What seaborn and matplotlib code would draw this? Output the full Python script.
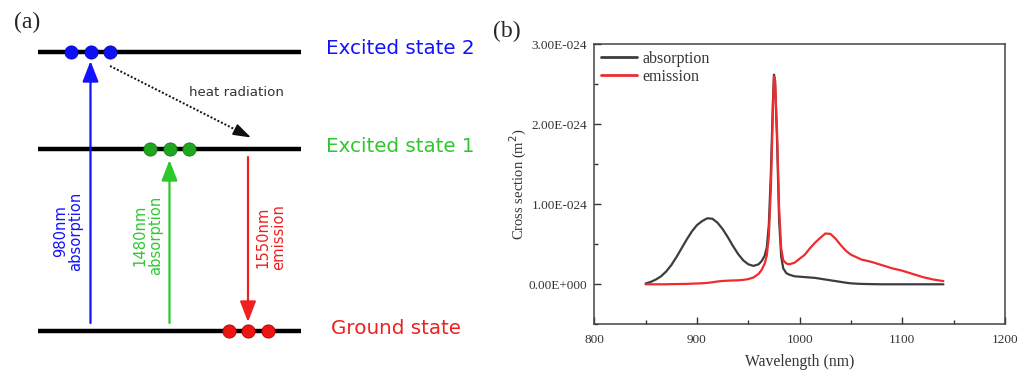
import numpy as np
import pandas as pd
import matplotlib
matplotlib.use("Agg")
import matplotlib.pyplot as plt
from matplotlib.ticker import FuncFormatter, MultipleLocator
import seaborn as sns

# ---- spectra (cross section in units of 1e-24 m^2) ----
wavelength = [850, 855, 860, 865, 870, 875, 880, 885, 890, 895, 900, 905, 910, 915,
              920, 925, 930, 935, 940, 945, 950, 955, 960, 963, 966, 968, 970, 972,
              974, 975, 976, 978, 980, 982, 984, 987, 990, 995, 1000, 1005, 1010,
              1015, 1020, 1025, 1030, 1035, 1040, 1045, 1050, 1055, 1060, 1070, 1080,
              1090, 1100, 1110, 1120, 1130, 1140]
absorption = [0.01, 0.03, 0.06, 0.10, 0.16, 0.24, 0.34, 0.45, 0.56, 0.66, 0.74, 0.79,
              0.825, 0.82, 0.77, 0.69, 0.59, 0.48, 0.38, 0.30, 0.25, 0.23, 0.25, 0.29,
              0.36, 0.46, 0.75, 1.40, 2.30, 2.62, 2.55, 1.80, 0.80, 0.35, 0.20, 0.14,
              0.12, 0.10, 0.095, 0.09, 0.085, 0.08, 0.07, 0.06, 0.05, 0.04, 0.03, 0.02,
              0.012, 0.008, 0.005, 0.002, 0.0, 0.0, 0.0, 0.0, 0.0, 0.0, 0.0]
emission = [0.0, 0.0, 0.0, 0.0, 0.0, 0.002, 0.003, 0.004, 0.005, 0.008, 0.01, 0.013,
            0.018, 0.025, 0.035, 0.042, 0.045, 0.048, 0.05, 0.055, 0.065, 0.085, 0.13,
            0.18, 0.26, 0.36, 0.60, 1.20, 2.20, 2.60, 2.55, 1.90, 0.95, 0.45, 0.30,
            0.26, 0.25, 0.27, 0.32, 0.37, 0.45, 0.52, 0.58, 0.635, 0.63, 0.57, 0.49,
            0.42, 0.37, 0.34, 0.31, 0.28, 0.24, 0.20, 0.17, 0.13, 0.09, 0.06, 0.04]
series_names = ["absorption", "emission"]
series_colors = ["#3d3d3d", "#ee2b2e"]

# ---- energy level diagram ----
level_names = ["Excited state 2", "Excited state 1", "Ground state"]
level_colors = ["#1212ff", "#2ec82e", "#ee2020"]
dot_colors = ["#1010f4", "#1fa81f", "#ee1414"]
dot_edges = ["#0a0ab8", "#117a11", "#b00000"]
transition_labels = ["980nm\nabsorption", "1480nm\nabsorption", "1550nm\nemission"]

sns.set_style("white")
plt.rcParams["font.family"] = ["DejaVu Sans"]

fig = plt.figure(figsize=(10.2, 3.73), dpi=100)

# ---------------- panel (a) ----------------
ax_a = fig.add_axes([0, 0, 0.5, 1])
ax_a.set_xlim(0, 510)
ax_a.set_ylim(373, 0)
ax_a.axis("off")

level_y = [51.5, 149, 331]
dot_x = [[71, 90.7, 110.3], [149.7, 169.7, 189.3], [228.7, 248.3, 268]]
for y, name, tc, dc, ec, xs in zip(level_y, level_names, level_colors,
                                   dot_colors, dot_edges, dot_x):
    ax_a.plot([37.7, 300.7], [y, y], color="black", lw=3.2, solid_capstyle="butt",
              zorder=1)
    ax_a.plot(xs, [y] * 3, "o", ms=9.5, color=dc, mec=ec, mew=0.6, zorder=3)
    tx = 331 if name == "Ground state" else 326
    ax_a.text(tx, y - 3, name, color=tc, fontsize=14.3, ha="left", va="center")

arrow_kw = dict(arrowstyle="-|>,head_length=0.9,head_width=0.35", lw=1.6,
                shrinkA=0, shrinkB=0, mutation_scale=14)
# 980 nm pump (ground -> excited 2)
ax_a.annotate("", xy=(90.5, 61), xytext=(90.5, 323),
              arrowprops=dict(color=level_colors[0], **arrow_kw))
# 1480 nm pump (ground -> excited 1)
ax_a.annotate("", xy=(169.5, 160), xytext=(169.5, 323),
              arrowprops=dict(color=level_colors[1], **arrow_kw))
# 1550 nm emission (excited 1 -> ground)
ax_a.annotate("", xy=(248, 322), xytext=(248, 157),
              arrowprops=dict(color=level_colors[2], **arrow_kw))

label_kw = dict(fontsize=10.6, rotation=90, ha="center", va="center",
                multialignment="center", linespacing=1.05)
ax_a.text(68, 231, transition_labels[0], color=level_colors[0], **label_kw)
ax_a.text(148, 235, transition_labels[1], color=level_colors[1], **label_kw)
ax_a.text(271, 237, transition_labels[2], color=level_colors[2], **label_kw)

# non-radiative decay (excited 2 -> excited 1)
ax_a.plot([110, 246], [66, 135], color="#111111", lw=1.4, ls=(0, (1, 1)))
ax_a.annotate("", xy=(251, 137.5), xytext=(238, 131),
              arrowprops=dict(arrowstyle="-|>,head_length=0.9,head_width=0.3",
                              color="#111111", lw=1.2, shrinkA=0, shrinkB=0,
                              mutation_scale=12))
ax_a.text(236.5, 92, "heat radiation", color="#333333", fontsize=9.6,
          ha="center", va="center")

fig.text(27 / 1020, 1 - 22 / 373, "(a)", fontsize=17, family="Liberation Serif",
         ha="center", va="center")
fig.text(507 / 1020, 1 - 31 / 373, "(b)", fontsize=17, family="Liberation Serif",
         ha="center", va="center")

# ---------------- panel (b) ----------------
ax_b = fig.add_axes([594.3 / 1020, 1 - 324.3 / 373, (1005 - 594.3) / 1020,
                     (324.3 - 44.3) / 373])
df = pd.DataFrame({
    "Wavelength": wavelength * 2,
    "value": [v * 1e-24 for v in absorption + emission],
    "series": [series_names[0]] * len(wavelength) + [series_names[1]] * len(wavelength),
})
sns.lineplot(data=df, x="Wavelength", y="value", hue="series",
             palette=dict(zip(series_names, series_colors)), lw=1.6, ax=ax_b)

ax_b.set_xlim(800, 1200)
ax_b.set_ylim(-0.5e-24, 3.0e-24)
ax_b.xaxis.set_major_locator(MultipleLocator(100))
ax_b.xaxis.set_minor_locator(MultipleLocator(50))
ax_b.yaxis.set_major_locator(MultipleLocator(1e-24))
ax_b.yaxis.set_minor_locator(MultipleLocator(0.5e-24))


def sci_fmt(v, pos):
    if abs(v) < 1e-30:
        return "0.00E+000"
    mant, exp = f"{v:.2E}".split("E")
    e = int(exp)
    return f"{mant}E{'-' if e < 0 else '+'}{abs(e):03d}"


ax_b.yaxis.set_major_formatter(FuncFormatter(sci_fmt))
ax_b.yaxis.get_offset_text().set_visible(False)
serif = "Liberation Serif"
ax_b.tick_params(axis="both", which="both", direction="in", left=True, bottom=True,
                 top=False, right=False, color="#333333")
ax_b.tick_params(which="major", length=5, width=1, labelsize=9.5, pad=5)
ax_b.tick_params(which="minor", length=3, width=1)
for lab in ax_b.get_xticklabels() + ax_b.get_yticklabels():
    lab.set_family(serif)
    lab.set_color("#333333")
ax_b.tick_params(axis="x", pad=7)
for sp in ax_b.spines.values():
    sp.set_color("#444444")
    sp.set_linewidth(1.1)

ax_b.set_xlabel("Wavelength (nm)", family=serif, fontsize=11.3, color="#333333",
                labelpad=6)
ax_b.set_ylabel("Cross section (m$^2$)", family=serif, fontsize=10.5,
                color="#333333", labelpad=0)

leg = ax_b.legend(loc="upper left", frameon=False, handlelength=2.3,
                  handletextpad=0.3, labelspacing=0.15, borderaxespad=0.2,
                  borderpad=0.2, prop={"family": serif, "size": 11.5})
for line in leg.get_lines():
    line.set_linewidth(2.0)
for t in leg.get_texts():
    t.set_color("#333333")

fig.savefig("out.png", dpi=100)
